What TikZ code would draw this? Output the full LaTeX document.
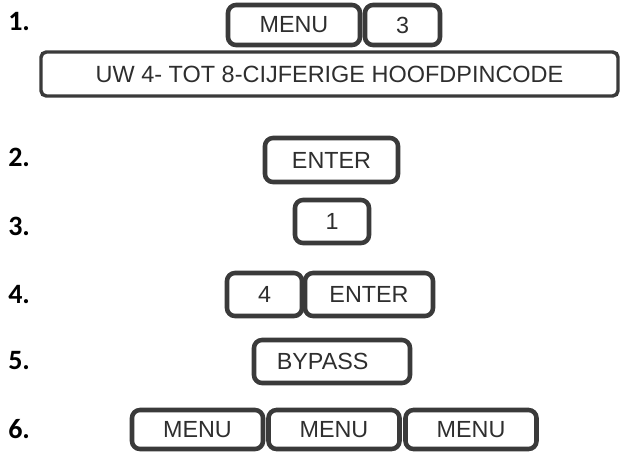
\documentclass[tikz,border=0pt]{standalone}
\usepackage{fontspec}
\setmainfont{Liberation Sans}
\newfontfamily\labfont{Carlito}
\definecolor{keyline}{HTML}{3A3A3A}
\definecolor{keytext}{HTML}{2E2E2E}
\begin{document}
\begin{tikzpicture}[x=0.75pt,y=-0.75pt,
  keybox/.style={draw=keyline, line width=3.4pt, rounded corners=6pt, inner sep=0pt,
    text=keytext, font=\fontsize{17.5}{17.5}\selectfont, minimum height=30pt},
  longbox/.style={draw=keyline, line width=2.6pt, rounded corners=4pt, inner sep=0pt,
    text=keytext, font=\fontsize{17.6}{17.6}\selectfont},
  steplabel/.style={anchor=west, inner sep=0pt, font=\labfont\bfseries\fontsize{21}{21}\selectfont}]
\useasboundingbox (0,0) rectangle (621,451);
% labels
\node[steplabel] (l1) at (8,21) {1.};
\node[steplabel] (l2) at (8,157) {2.};
\node[steplabel] (l3) at (8,226) {3.};
\node[steplabel] (l4) at (8,295) {4.};
\node[steplabel] (l5) at (8,361) {5.};
\node[steplabel] (l6) at (8,429) {6.};
% row 1
\node[keybox, minimum width=99pt] (m1) at (294,25) {MENU};
\node[keybox, minimum width=56.25pt] (k3) at (402.5,25) {3};
\node[longbox, minimum width=432.75pt, minimum height=33pt] (code) at (329.5,74) {UW 4- TOT 8-CIJFERIGE HOOFDPINCODE};
% row 2
\node[keybox, minimum width=99.75pt, minimum height=33pt] (e2) at (331.5,160) {ENTER};
% row 3
\node[keybox, minimum width=55.5pt, minimum height=32.25pt] (k1) at (332,221.5) {1};
% row 4
\node[keybox, minimum width=56.25pt, minimum height=32.25pt] (k4) at (264.5,294.5) {4};
\node[keybox, minimum width=96pt, minimum height=32.25pt] (e4) at (369,294.5) {ENTER};
% row 5
\node[keybox, minimum width=117pt, minimum height=32.25pt] (bp) at (332,361.5) {\hspace*{-14pt}BYPASS};
% row 6
\node[keybox, minimum width=98.25pt, minimum height=29.25pt] (m6a) at (197.5,429.5) {MENU};
\node[keybox, minimum width=98.25pt, minimum height=29.25pt] (m6b) at (334,429.5) {MENU};
\node[keybox, minimum width=98.25pt, minimum height=29.25pt] (m6c) at (471,429.5) {MENU};
\end{tikzpicture}
\end{document}
